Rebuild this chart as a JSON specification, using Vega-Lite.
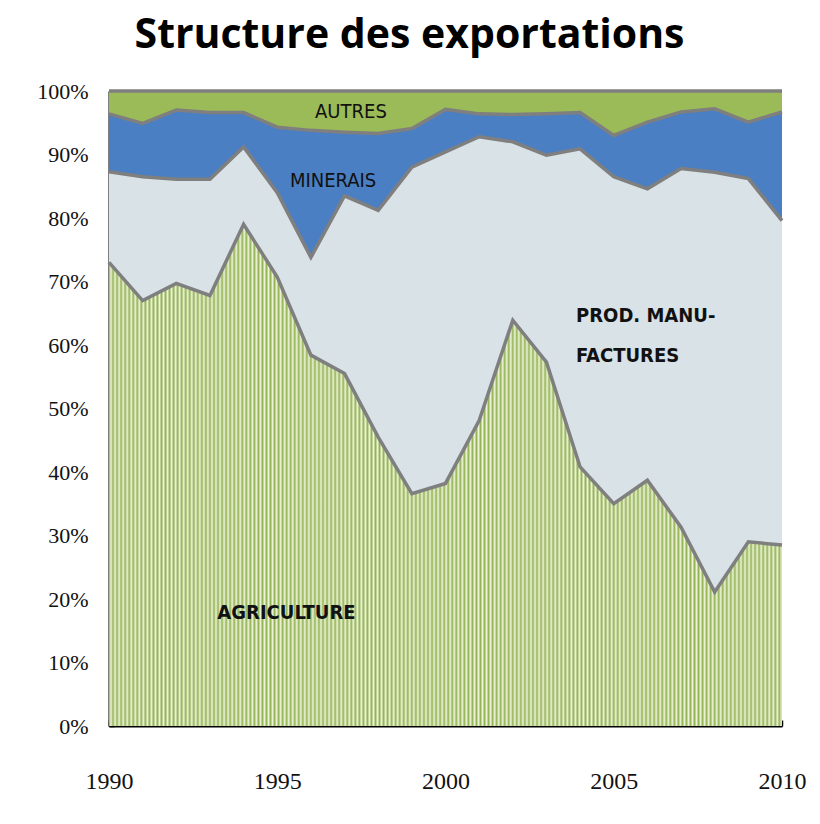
{
  "$schema": "https://vega.github.io/schema/vega-lite/v6.json",
  "width": 673,
  "height": 635,
  "autosize": "none",
  "padding": {"left": 109, "top": 91, "right": 38, "bottom": 98},
  "background": "white",
  "title": {
    "text": "Structure des exportations",
    "font": "Open Sans",
    "fontSize": 41,
    "fontWeight": 700,
    "color": "#000000",
    "anchor": "middle",
    "frame": "group",
    "dx": -36,
    "offset": 23
  },
  "config": {
    "view": {"stroke": null},
    "axis": {
      "labelFont": "Liberation Serif",
      "labelColor": "#111111",
      "domainColor": "#000000",
      "tickColor": "#000000",
      "grid": false,
      "title": null,
      "zindex": 1,
      "labelOverlap": false
    }
  },
  "datasets": {
    "exports": [
      {"year": 1990, "category": "AGRICULTURE", "share": 73.0},
      {"year": 1990, "category": "PROD. MANUFACTURES", "share": 14.3},
      {"year": 1990, "category": "MINERAIS", "share": 9.1},
      {"year": 1990, "category": "AUTRES", "share": 3.6},
      {"year": 1991, "category": "AGRICULTURE", "share": 67.0},
      {"year": 1991, "category": "PROD. MANUFACTURES", "share": 19.5},
      {"year": 1991, "category": "MINERAIS", "share": 8.4},
      {"year": 1991, "category": "AUTRES", "share": 5.1},
      {"year": 1992, "category": "AGRICULTURE", "share": 69.7},
      {"year": 1992, "category": "PROD. MANUFACTURES", "share": 16.4},
      {"year": 1992, "category": "MINERAIS", "share": 10.9},
      {"year": 1992, "category": "AUTRES", "share": 3.0},
      {"year": 1993, "category": "AGRICULTURE", "share": 67.8},
      {"year": 1993, "category": "PROD. MANUFACTURES", "share": 18.3},
      {"year": 1993, "category": "MINERAIS", "share": 10.5},
      {"year": 1993, "category": "AUTRES", "share": 3.4},
      {"year": 1994, "category": "AGRICULTURE", "share": 79.0},
      {"year": 1994, "category": "PROD. MANUFACTURES", "share": 12.2},
      {"year": 1994, "category": "MINERAIS", "share": 5.4},
      {"year": 1994, "category": "AUTRES", "share": 3.4},
      {"year": 1995, "category": "AGRICULTURE", "share": 70.7},
      {"year": 1995, "category": "PROD. MANUFACTURES", "share": 13.3},
      {"year": 1995, "category": "MINERAIS", "share": 10.3},
      {"year": 1995, "category": "AUTRES", "share": 5.7},
      {"year": 1996, "category": "AGRICULTURE", "share": 58.4},
      {"year": 1996, "category": "PROD. MANUFACTURES", "share": 15.4},
      {"year": 1996, "category": "MINERAIS", "share": 20.0},
      {"year": 1996, "category": "AUTRES", "share": 6.2},
      {"year": 1997, "category": "AGRICULTURE", "share": 55.5},
      {"year": 1997, "category": "PROD. MANUFACTURES", "share": 28.0},
      {"year": 1997, "category": "MINERAIS", "share": 10.0},
      {"year": 1997, "category": "AUTRES", "share": 6.5},
      {"year": 1998, "category": "AGRICULTURE", "share": 45.5},
      {"year": 1998, "category": "PROD. MANUFACTURES", "share": 35.7},
      {"year": 1998, "category": "MINERAIS", "share": 12.1},
      {"year": 1998, "category": "AUTRES", "share": 6.7},
      {"year": 1999, "category": "AGRICULTURE", "share": 36.6},
      {"year": 1999, "category": "PROD. MANUFACTURES", "share": 51.4},
      {"year": 1999, "category": "MINERAIS", "share": 6.1},
      {"year": 1999, "category": "AUTRES", "share": 5.9},
      {"year": 2000, "category": "AGRICULTURE", "share": 38.2},
      {"year": 2000, "category": "PROD. MANUFACTURES", "share": 52.2},
      {"year": 2000, "category": "MINERAIS", "share": 6.7},
      {"year": 2000, "category": "AUTRES", "share": 2.9},
      {"year": 2001, "category": "AGRICULTURE", "share": 48.1},
      {"year": 2001, "category": "PROD. MANUFACTURES", "share": 44.7},
      {"year": 2001, "category": "MINERAIS", "share": 3.6},
      {"year": 2001, "category": "AUTRES", "share": 3.6},
      {"year": 2002, "category": "AGRICULTURE", "share": 63.9},
      {"year": 2002, "category": "PROD. MANUFACTURES", "share": 28.1},
      {"year": 2002, "category": "MINERAIS", "share": 4.3},
      {"year": 2002, "category": "AUTRES", "share": 3.7},
      {"year": 2003, "category": "AGRICULTURE", "share": 57.3},
      {"year": 2003, "category": "PROD. MANUFACTURES", "share": 32.6},
      {"year": 2003, "category": "MINERAIS", "share": 6.5},
      {"year": 2003, "category": "AUTRES", "share": 3.6},
      {"year": 2004, "category": "AGRICULTURE", "share": 40.8},
      {"year": 2004, "category": "PROD. MANUFACTURES", "share": 50.1},
      {"year": 2004, "category": "MINERAIS", "share": 5.7},
      {"year": 2004, "category": "AUTRES", "share": 3.4},
      {"year": 2005, "category": "AGRICULTURE", "share": 35.0},
      {"year": 2005, "category": "PROD. MANUFACTURES", "share": 51.5},
      {"year": 2005, "category": "MINERAIS", "share": 6.5},
      {"year": 2005, "category": "AUTRES", "share": 7.0},
      {"year": 2006, "category": "AGRICULTURE", "share": 38.7},
      {"year": 2006, "category": "PROD. MANUFACTURES", "share": 45.9},
      {"year": 2006, "category": "MINERAIS", "share": 10.5},
      {"year": 2006, "category": "AUTRES", "share": 4.9},
      {"year": 2007, "category": "AGRICULTURE", "share": 31.3},
      {"year": 2007, "category": "PROD. MANUFACTURES", "share": 56.5},
      {"year": 2007, "category": "MINERAIS", "share": 8.9},
      {"year": 2007, "category": "AUTRES", "share": 3.3},
      {"year": 2008, "category": "AGRICULTURE", "share": 21.1},
      {"year": 2008, "category": "PROD. MANUFACTURES", "share": 66.1},
      {"year": 2008, "category": "MINERAIS", "share": 10.0},
      {"year": 2008, "category": "AUTRES", "share": 2.8},
      {"year": 2009, "category": "AGRICULTURE", "share": 29.0},
      {"year": 2009, "category": "PROD. MANUFACTURES", "share": 57.2},
      {"year": 2009, "category": "MINERAIS", "share": 8.9},
      {"year": 2009, "category": "AUTRES", "share": 4.9},
      {"year": 2010, "category": "AGRICULTURE", "share": 28.5},
      {"year": 2010, "category": "PROD. MANUFACTURES", "share": 51.1},
      {"year": 2010, "category": "MINERAIS", "share": 17.1},
      {"year": 2010, "category": "AUTRES", "share": 3.3}
    ],
    "series": [
      {"category": "AGRICULTURE", "rank": 1},
      {"category": "PROD. MANUFACTURES", "rank": 2},
      {"category": "MINERAIS", "rank": 3},
      {"category": "AUTRES", "rank": 4}
    ],
    "annotations": [
      {"label": "AUTRES", "year": 1997.19, "pct": 96.7},
      {"label": "MINERAIS", "year": 1996.66, "pct": 85.8},
      {"label": "PROD. MANU-", "year": 2003.88, "pct": 64.5},
      {"label": "FACTURES", "year": 2003.88, "pct": 58.2},
      {"label": "AGRICULTURE", "year": 1993.22, "pct": 17.8}
    ]
  },
  "encoding": {
    "x": {
      "field": "year",
      "type": "quantitative",
      "scale": {"domain": [1990, 2010], "nice": false, "zero": false},
      "axis": {
        "values": [1990, 1991, 1992, 1993, 1994, 1995, 1996, 1997, 1998, 1999, 2000, 2001, 2002, 2003, 2004, 2005, 2006, 2007, 2008, 2009, 2010],
        "format": "d",
        "labelExpr": "datum.value % 5 === 0 ? datum.label : ''",
        "labelFontSize": 24,
        "labelPadding": 49,
        "tickSize": -6,
        "tickWidth": 1.5,
        "domainWidth": 2,
        "labelOverlap": false,
        "labelFlush": false,
        "labelBound": false
      }
    }
  },
  "layer": [
    {
      "data": {"name": "exports"},
      "transform": [
        {"lookup": "category", "from": {"data": {"name": "series"}, "key": "category", "fields": ["rank"]}},
        {"stack": "share", "groupby": ["year"], "sort": [{"field": "rank", "order": "ascending"}], "as": ["y0", "y1"]}
      ],
      "mark": {"type": "area", "opacity": 1},
      "encoding": {
        "y": {
          "field": "y1",
          "type": "quantitative",
          "scale": {"domain": [0, 100], "nice": false},
          "axis": {
            "values": [0, 10, 20, 30, 40, 50, 60, 70, 80, 90, 100],
            "labelExpr": "datum.value + '%'",
            "labelFontSize": 22,
            "labelPadding": 26,
            "tickSize": -5,
            "tickWidth": 1.5,
            "domainWidth": 2,
            "labelOverlap": false
          }
        },
        "y2": {"field": "y0"},
        "fill": {
          "field": "category",
          "type": "nominal",
          "scale": {
            "domain": ["AGRICULTURE", "PROD. MANUFACTURES", "MINERAIS", "AUTRES"],
            "range": ["#b3cb7f", "#d9e2e6", "#4a7fc4", "#9bbb59"]
          },
          "legend": null
        }
      }
    },
    {
      "data": {"name": "exports"},
      "transform": [
        {"lookup": "category", "from": {"data": {"name": "series"}, "key": "category", "fields": ["rank"]}},
        {"stack": "share", "groupby": ["year"], "sort": [{"field": "rank", "order": "ascending"}], "as": ["y0", "y1"]},
        {"filter": {"field": "category", "equal": "AGRICULTURE"}}
      ],
      "mark": {
        "type": "area",
        "fill": {
          "gradient": "linear", "x1": 0, "y1": 0, "x2": 1, "y2": 0,
          "stops": [
            {"offset":0,"color":"#93b356"},{"offset":0.003,"color":"#eef4d8"},{"offset":0.006,"color":"#93b356"},{"offset":0.009,"color":"#eef4d8"},{"offset":0.012,"color":"#93b356"},{"offset":0.015,"color":"#eef4d8"},{"offset":0.018,"color":"#93b356"},{"offset":0.021,"color":"#eef4d8"},{"offset":0.024,"color":"#93b356"},{"offset":0.027,"color":"#eef4d8"},
            {"offset":0.03,"color":"#93b356"},{"offset":0.033,"color":"#eef4d8"},{"offset":0.036,"color":"#93b356"},{"offset":0.039,"color":"#eef4d8"},{"offset":0.042,"color":"#93b356"},{"offset":0.045,"color":"#eef4d8"},{"offset":0.048,"color":"#93b356"},{"offset":0.051,"color":"#eef4d8"},{"offset":0.054,"color":"#93b356"},{"offset":0.057,"color":"#eef4d8"},
            {"offset":0.06,"color":"#93b356"},{"offset":0.063,"color":"#eef4d8"},{"offset":0.066,"color":"#93b356"},{"offset":0.069,"color":"#eef4d8"},{"offset":0.072,"color":"#93b356"},{"offset":0.075,"color":"#eef4d8"},{"offset":0.078,"color":"#93b356"},{"offset":0.081,"color":"#eef4d8"},{"offset":0.084,"color":"#93b356"},{"offset":0.087,"color":"#eef4d8"},
            {"offset":0.09,"color":"#93b356"},{"offset":0.093,"color":"#eef4d8"},{"offset":0.096,"color":"#93b356"},{"offset":0.099,"color":"#eef4d8"},{"offset":0.102,"color":"#93b356"},{"offset":0.105,"color":"#eef4d8"},{"offset":0.108,"color":"#93b356"},{"offset":0.111,"color":"#eef4d8"},{"offset":0.114,"color":"#93b356"},{"offset":0.117,"color":"#eef4d8"},
            {"offset":0.12,"color":"#93b356"},{"offset":0.123,"color":"#eef4d8"},{"offset":0.126,"color":"#93b356"},{"offset":0.129,"color":"#eef4d8"},{"offset":0.132,"color":"#93b356"},{"offset":0.135,"color":"#eef4d8"},{"offset":0.138,"color":"#93b356"},{"offset":0.141,"color":"#eef4d8"},{"offset":0.144,"color":"#93b356"},{"offset":0.147,"color":"#eef4d8"},
            {"offset":0.15,"color":"#93b356"},{"offset":0.153,"color":"#eef4d8"},{"offset":0.156,"color":"#93b356"},{"offset":0.159,"color":"#eef4d8"},{"offset":0.162,"color":"#93b356"},{"offset":0.165,"color":"#eef4d8"},{"offset":0.168,"color":"#93b356"},{"offset":0.171,"color":"#eef4d8"},{"offset":0.174,"color":"#93b356"},{"offset":0.177,"color":"#eef4d8"},
            {"offset":0.18,"color":"#93b356"},{"offset":0.183,"color":"#eef4d8"},{"offset":0.186,"color":"#93b356"},{"offset":0.189,"color":"#eef4d8"},{"offset":0.192,"color":"#93b356"},{"offset":0.195,"color":"#eef4d8"},{"offset":0.198,"color":"#93b356"},{"offset":0.201,"color":"#eef4d8"},{"offset":0.204,"color":"#93b356"},{"offset":0.207,"color":"#eef4d8"},
            {"offset":0.21,"color":"#93b356"},{"offset":0.213,"color":"#eef4d8"},{"offset":0.216,"color":"#93b356"},{"offset":0.219,"color":"#eef4d8"},{"offset":0.222,"color":"#93b356"},{"offset":0.225,"color":"#eef4d8"},{"offset":0.228,"color":"#93b356"},{"offset":0.231,"color":"#eef4d8"},{"offset":0.234,"color":"#93b356"},{"offset":0.237,"color":"#eef4d8"},
            {"offset":0.24,"color":"#93b356"},{"offset":0.243,"color":"#eef4d8"},{"offset":0.246,"color":"#93b356"},{"offset":0.249,"color":"#eef4d8"},{"offset":0.252,"color":"#93b356"},{"offset":0.255,"color":"#eef4d8"},{"offset":0.258,"color":"#93b356"},{"offset":0.261,"color":"#eef4d8"},{"offset":0.264,"color":"#93b356"},{"offset":0.267,"color":"#eef4d8"},
            {"offset":0.27,"color":"#93b356"},{"offset":0.273,"color":"#eef4d8"},{"offset":0.276,"color":"#93b356"},{"offset":0.279,"color":"#eef4d8"},{"offset":0.282,"color":"#93b356"},{"offset":0.285,"color":"#eef4d8"},{"offset":0.288,"color":"#93b356"},{"offset":0.291,"color":"#eef4d8"},{"offset":0.294,"color":"#93b356"},{"offset":0.297,"color":"#eef4d8"},
            {"offset":0.3,"color":"#93b356"},{"offset":0.303,"color":"#eef4d8"},{"offset":0.306,"color":"#93b356"},{"offset":0.309,"color":"#eef4d8"},{"offset":0.312,"color":"#93b356"},{"offset":0.315,"color":"#eef4d8"},{"offset":0.318,"color":"#93b356"},{"offset":0.321,"color":"#eef4d8"},{"offset":0.324,"color":"#93b356"},{"offset":0.327,"color":"#eef4d8"},
            {"offset":0.33,"color":"#93b356"},{"offset":0.333,"color":"#eef4d8"},{"offset":0.336,"color":"#93b356"},{"offset":0.339,"color":"#eef4d8"},{"offset":0.342,"color":"#93b356"},{"offset":0.345,"color":"#eef4d8"},{"offset":0.348,"color":"#93b356"},{"offset":0.351,"color":"#eef4d8"},{"offset":0.354,"color":"#93b356"},{"offset":0.357,"color":"#eef4d8"},
            {"offset":0.36,"color":"#93b356"},{"offset":0.363,"color":"#eef4d8"},{"offset":0.366,"color":"#93b356"},{"offset":0.369,"color":"#eef4d8"},{"offset":0.372,"color":"#93b356"},{"offset":0.375,"color":"#eef4d8"},{"offset":0.378,"color":"#93b356"},{"offset":0.381,"color":"#eef4d8"},{"offset":0.384,"color":"#93b356"},{"offset":0.387,"color":"#eef4d8"},
            {"offset":0.39,"color":"#93b356"},{"offset":0.393,"color":"#eef4d8"},{"offset":0.396,"color":"#93b356"},{"offset":0.399,"color":"#eef4d8"},{"offset":0.402,"color":"#93b356"},{"offset":0.405,"color":"#eef4d8"},{"offset":0.408,"color":"#93b356"},{"offset":0.411,"color":"#eef4d8"},{"offset":0.414,"color":"#93b356"},{"offset":0.417,"color":"#eef4d8"},
            {"offset":0.42,"color":"#93b356"},{"offset":0.423,"color":"#eef4d8"},{"offset":0.426,"color":"#93b356"},{"offset":0.429,"color":"#eef4d8"},{"offset":0.432,"color":"#93b356"},{"offset":0.435,"color":"#eef4d8"},{"offset":0.438,"color":"#93b356"},{"offset":0.441,"color":"#eef4d8"},{"offset":0.444,"color":"#93b356"},{"offset":0.447,"color":"#eef4d8"},
            {"offset":0.45,"color":"#93b356"},{"offset":0.453,"color":"#eef4d8"},{"offset":0.456,"color":"#93b356"},{"offset":0.459,"color":"#eef4d8"},{"offset":0.462,"color":"#93b356"},{"offset":0.465,"color":"#eef4d8"},{"offset":0.468,"color":"#93b356"},{"offset":0.471,"color":"#eef4d8"},{"offset":0.474,"color":"#93b356"},{"offset":0.477,"color":"#eef4d8"},
            {"offset":0.48,"color":"#93b356"},{"offset":0.483,"color":"#eef4d8"},{"offset":0.486,"color":"#93b356"},{"offset":0.489,"color":"#eef4d8"},{"offset":0.492,"color":"#93b356"},{"offset":0.495,"color":"#eef4d8"},{"offset":0.498,"color":"#93b356"},{"offset":0.501,"color":"#eef4d8"},{"offset":0.504,"color":"#93b356"},{"offset":0.507,"color":"#eef4d8"},
            {"offset":0.51,"color":"#93b356"},{"offset":0.513,"color":"#eef4d8"},{"offset":0.516,"color":"#93b356"},{"offset":0.519,"color":"#eef4d8"},{"offset":0.522,"color":"#93b356"},{"offset":0.525,"color":"#eef4d8"},{"offset":0.528,"color":"#93b356"},{"offset":0.531,"color":"#eef4d8"},{"offset":0.534,"color":"#93b356"},{"offset":0.537,"color":"#eef4d8"},
            {"offset":0.54,"color":"#93b356"},{"offset":0.543,"color":"#eef4d8"},{"offset":0.546,"color":"#93b356"},{"offset":0.549,"color":"#eef4d8"},{"offset":0.552,"color":"#93b356"},{"offset":0.555,"color":"#eef4d8"},{"offset":0.558,"color":"#93b356"},{"offset":0.561,"color":"#eef4d8"},{"offset":0.564,"color":"#93b356"},{"offset":0.567,"color":"#eef4d8"},
            {"offset":0.57,"color":"#93b356"},{"offset":0.573,"color":"#eef4d8"},{"offset":0.576,"color":"#93b356"},{"offset":0.579,"color":"#eef4d8"},{"offset":0.582,"color":"#93b356"},{"offset":0.585,"color":"#eef4d8"},{"offset":0.588,"color":"#93b356"},{"offset":0.591,"color":"#eef4d8"},{"offset":0.594,"color":"#93b356"},{"offset":0.597,"color":"#eef4d8"},
            {"offset":0.6,"color":"#93b356"},{"offset":0.603,"color":"#eef4d8"},{"offset":0.606,"color":"#93b356"},{"offset":0.609,"color":"#eef4d8"},{"offset":0.612,"color":"#93b356"},{"offset":0.615,"color":"#eef4d8"},{"offset":0.618,"color":"#93b356"},{"offset":0.621,"color":"#eef4d8"},{"offset":0.624,"color":"#93b356"},{"offset":0.627,"color":"#eef4d8"},
            {"offset":0.63,"color":"#93b356"},{"offset":0.633,"color":"#eef4d8"},{"offset":0.636,"color":"#93b356"},{"offset":0.639,"color":"#eef4d8"},{"offset":0.642,"color":"#93b356"},{"offset":0.645,"color":"#eef4d8"},{"offset":0.648,"color":"#93b356"},{"offset":0.651,"color":"#eef4d8"},{"offset":0.654,"color":"#93b356"},{"offset":0.657,"color":"#eef4d8"},
            {"offset":0.66,"color":"#93b356"},{"offset":0.663,"color":"#eef4d8"},{"offset":0.666,"color":"#93b356"},{"offset":0.669,"color":"#eef4d8"},{"offset":0.672,"color":"#93b356"},{"offset":0.675,"color":"#eef4d8"},{"offset":0.678,"color":"#93b356"},{"offset":0.681,"color":"#eef4d8"},{"offset":0.684,"color":"#93b356"},{"offset":0.687,"color":"#eef4d8"},
            {"offset":0.69,"color":"#93b356"},{"offset":0.693,"color":"#eef4d8"},{"offset":0.696,"color":"#93b356"},{"offset":0.699,"color":"#eef4d8"},{"offset":0.702,"color":"#93b356"},{"offset":0.705,"color":"#eef4d8"},{"offset":0.708,"color":"#93b356"},{"offset":0.711,"color":"#eef4d8"},{"offset":0.714,"color":"#93b356"},{"offset":0.717,"color":"#eef4d8"},
            {"offset":0.72,"color":"#93b356"},{"offset":0.723,"color":"#eef4d8"},{"offset":0.726,"color":"#93b356"},{"offset":0.729,"color":"#eef4d8"},{"offset":0.732,"color":"#93b356"},{"offset":0.735,"color":"#eef4d8"},{"offset":0.738,"color":"#93b356"},{"offset":0.741,"color":"#eef4d8"},{"offset":0.744,"color":"#93b356"},{"offset":0.747,"color":"#eef4d8"},
            {"offset":0.75,"color":"#93b356"},{"offset":0.753,"color":"#eef4d8"},{"offset":0.756,"color":"#93b356"},{"offset":0.759,"color":"#eef4d8"},{"offset":0.762,"color":"#93b356"},{"offset":0.765,"color":"#eef4d8"},{"offset":0.768,"color":"#93b356"},{"offset":0.771,"color":"#eef4d8"},{"offset":0.774,"color":"#93b356"},{"offset":0.777,"color":"#eef4d8"},
            {"offset":0.78,"color":"#93b356"},{"offset":0.783,"color":"#eef4d8"},{"offset":0.786,"color":"#93b356"},{"offset":0.789,"color":"#eef4d8"},{"offset":0.792,"color":"#93b356"},{"offset":0.795,"color":"#eef4d8"},{"offset":0.798,"color":"#93b356"},{"offset":0.801,"color":"#eef4d8"},{"offset":0.804,"color":"#93b356"},{"offset":0.807,"color":"#eef4d8"},
            {"offset":0.81,"color":"#93b356"},{"offset":0.813,"color":"#eef4d8"},{"offset":0.816,"color":"#93b356"},{"offset":0.819,"color":"#eef4d8"},{"offset":0.822,"color":"#93b356"},{"offset":0.825,"color":"#eef4d8"},{"offset":0.828,"color":"#93b356"},{"offset":0.831,"color":"#eef4d8"},{"offset":0.834,"color":"#93b356"},{"offset":0.837,"color":"#eef4d8"},
            {"offset":0.84,"color":"#93b356"},{"offset":0.843,"color":"#eef4d8"},{"offset":0.846,"color":"#93b356"},{"offset":0.849,"color":"#eef4d8"},{"offset":0.852,"color":"#93b356"},{"offset":0.855,"color":"#eef4d8"},{"offset":0.858,"color":"#93b356"},{"offset":0.861,"color":"#eef4d8"},{"offset":0.864,"color":"#93b356"},{"offset":0.867,"color":"#eef4d8"},
            {"offset":0.87,"color":"#93b356"},{"offset":0.873,"color":"#eef4d8"},{"offset":0.876,"color":"#93b356"},{"offset":0.879,"color":"#eef4d8"},{"offset":0.882,"color":"#93b356"},{"offset":0.885,"color":"#eef4d8"},{"offset":0.888,"color":"#93b356"},{"offset":0.891,"color":"#eef4d8"},{"offset":0.894,"color":"#93b356"},{"offset":0.897,"color":"#eef4d8"},
            {"offset":0.9,"color":"#93b356"},{"offset":0.903,"color":"#eef4d8"},{"offset":0.906,"color":"#93b356"},{"offset":0.909,"color":"#eef4d8"},{"offset":0.912,"color":"#93b356"},{"offset":0.915,"color":"#eef4d8"},{"offset":0.918,"color":"#93b356"},{"offset":0.921,"color":"#eef4d8"},{"offset":0.924,"color":"#93b356"},{"offset":0.927,"color":"#eef4d8"},
            {"offset":0.93,"color":"#93b356"},{"offset":0.933,"color":"#eef4d8"},{"offset":0.936,"color":"#93b356"},{"offset":0.939,"color":"#eef4d8"},{"offset":0.942,"color":"#93b356"},{"offset":0.945,"color":"#eef4d8"},{"offset":0.948,"color":"#93b356"},{"offset":0.951,"color":"#eef4d8"},{"offset":0.954,"color":"#93b356"},{"offset":0.957,"color":"#eef4d8"},
            {"offset":0.96,"color":"#93b356"},{"offset":0.963,"color":"#eef4d8"},{"offset":0.966,"color":"#93b356"},{"offset":0.969,"color":"#eef4d8"},{"offset":0.972,"color":"#93b356"},{"offset":0.975,"color":"#eef4d8"},{"offset":0.978,"color":"#93b356"},{"offset":0.981,"color":"#eef4d8"},{"offset":0.984,"color":"#93b356"},{"offset":0.987,"color":"#eef4d8"},
            {"offset":0.99,"color":"#93b356"},{"offset":0.993,"color":"#eef4d8"},{"offset":0.996,"color":"#93b356"},{"offset":0.999,"color":"#eef4d8"},{"offset":1,"color":"#93b356"}
          ]
        }
      },
      "encoding": {
        "y": {
          "field": "y1",
          "type": "quantitative",
          "scale": {"domain": [0, 100], "nice": false},
          "axis": {
            "values": [0, 10, 20, 30, 40, 50, 60, 70, 80, 90, 100],
            "labelExpr": "datum.value + '%'",
            "labelFontSize": 22,
            "labelPadding": 26,
            "tickSize": -5,
            "tickWidth": 1.5,
            "domainWidth": 2,
            "labelOverlap": false
          }
        },
        "y2": {"field": "y0"}
      }
    },
    {
      "data": {"name": "exports"},
      "transform": [
        {"lookup": "category", "from": {"data": {"name": "series"}, "key": "category", "fields": ["rank"]}},
        {"stack": "share", "groupby": ["year"], "sort": [{"field": "rank", "order": "ascending"}], "as": ["y0", "y1"]}
      ],
      "mark": {"type": "line", "stroke": "#7f7f7f", "strokeWidth": 3.5},
      "encoding": {
        "y": {
          "field": "y1",
          "type": "quantitative",
          "scale": {"domain": [0, 100], "nice": false},
          "axis": {
            "values": [0, 10, 20, 30, 40, 50, 60, 70, 80, 90, 100],
            "labelExpr": "datum.value + '%'",
            "labelFontSize": 22,
            "labelPadding": 26,
            "tickSize": -5,
            "tickWidth": 1.5,
            "domainWidth": 2,
            "labelOverlap": false
          }
        },
        "detail": {"field": "category", "type": "nominal"}
      }
    },
    {
      "data": {"name": "annotations"},
      "transform": [{"filter": {"field": "label", "oneOf": ["AUTRES", "MINERAIS"]}}],
      "mark": {"type": "text", "align": "center", "baseline": "middle", "font": "DejaVu Sans Condensed", "fontSize": 20, "color": "#111111"},
      "encoding": {
        "y": {
          "field": "pct",
          "type": "quantitative",
          "scale": {"domain": [0, 100], "nice": false},
          "axis": {
            "values": [0, 10, 20, 30, 40, 50, 60, 70, 80, 90, 100],
            "labelExpr": "datum.value + '%'",
            "labelFontSize": 22,
            "labelPadding": 26,
            "tickSize": -5,
            "tickWidth": 1.5,
            "domainWidth": 2,
            "labelOverlap": false
          }
        },
        "text": {"field": "label"}
      }
    },
    {
      "data": {"name": "annotations"},
      "transform": [{"filter": {"field": "label", "oneOf": ["PROD. MANU-", "FACTURES", "AGRICULTURE"]}}],
      "mark": {"type": "text", "align": "left", "baseline": "middle", "font": "DejaVu Sans Condensed", "fontSize": 20, "fontWeight": "bold", "color": "#111111"},
      "encoding": {
        "y": {
          "field": "pct",
          "type": "quantitative",
          "scale": {"domain": [0, 100], "nice": false},
          "axis": {
            "values": [0, 10, 20, 30, 40, 50, 60, 70, 80, 90, 100],
            "labelExpr": "datum.value + '%'",
            "labelFontSize": 22,
            "labelPadding": 26,
            "tickSize": -5,
            "tickWidth": 1.5,
            "domainWidth": 2,
            "labelOverlap": false
          }
        },
        "text": {"field": "label"}
      }
    }
  ]
}
